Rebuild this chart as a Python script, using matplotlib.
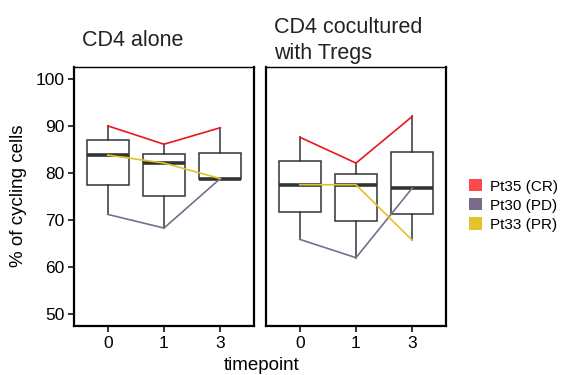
import numpy as np
import matplotlib
matplotlib.use("Agg")
import matplotlib.pyplot as plt
from matplotlib.patches import Patch

plt.rcParams['font.family'] = ['Liberation Sans', 'DejaVu Sans']

timepoints = ["0", "1", "3"]
panels = ["CD4 alone", "CD4 cocultured\nwith Tregs"]
patients = ["Pt35 (CR)", "Pt30 (PD)", "Pt33 (PR)"]
line_colors = ["#E8161E", "#7B6C8C", "#E0C22A"]
legend_colors = ["#FA4A4C", "#7A6C89", "#E2C52C"]

# % cycling cells per patient, per timepoint
alone = {
    "Pt35 (CR)": [90.0, 86.1, 89.6],
    "Pt30 (PD)": [71.2, 68.3, 78.8],
    "Pt33 (PR)": [83.8, 82.1, 78.8],
}
cocult = {
    "Pt35 (CR)": [87.6, 82.1, 92.0],
    "Pt30 (PD)": [65.9, 62.0, 76.8],
    "Pt33 (PR)": [77.5, 77.5, 65.7],
}

W, H = 561, 375
fig = plt.figure(figsize=(W / 100, H / 100), dpi=100)
axes = [fig.add_axes([74 / W, 49 / H, 180 / W, 259 / H]),
        fig.add_axes([266 / W, 49 / H, 180 / W, 259 / H])]

# title baselines (px from top) for each panel's last line
title_base = [46, 59]

pos = np.arange(1, len(timepoints) + 1)
for ax, title, data, tb in zip(axes, panels, [alone, cocult], title_base):
    groups = [[data[p][i] for p in patients] for i in range(len(timepoints))]
    ax.boxplot(groups, positions=pos, widths=0.75, whis=(0, 100),
               patch_artist=True, showfliers=False,
               boxprops=dict(facecolor="white", edgecolor="#333333", linewidth=1.1),
               whiskerprops=dict(color="#333333", linewidth=1.1),
               capprops=dict(linewidth=0),
               medianprops=dict(color="#333333", linewidth=2.6))
    for p, c in zip(patients, line_colors):
        ax.plot(pos, data[p], color=c, linewidth=1.2, zorder=5)
    ax.set_xlim(0.4, 3.6)
    ax.set_ylim(47.5, 102.5)
    ax.set_xticks(pos)
    ax.set_xticklabels(timepoints)
    ax.set_yticks([50, 60, 70, 80, 90, 100])
    ax.tick_params(axis="both", direction="out", length=4, width=1.1,
                   labelsize=12.5, colors="black", pad=3)
    ax.spines["left"].set_linewidth(1.6)
    ax.spines["bottom"].set_linewidth(1.6)
    ax.spines["top"].set_linewidth(1.0)
    ax.spines["right"].set_linewidth(1.6)
    x0 = ax.get_position().x0 + 8 / W
    lines = title.split("\n")
    for k, ln in enumerate(lines):
        yb = tb - 26 * (len(lines) - 1 - k)
        fig.text(x0, 1 - yb / H, ln, fontsize=15.5, ha="left", va="baseline",
                 color="#222222")

axes[1].tick_params(axis="y", left=False, labelleft=False)
fig.text(19 / W, 1 - 196 / H, "% of cycling cells", fontsize=13.5,
         rotation=90, ha="center", va="center")
fig.text(262 / W, 1 - 366 / H, "timepoint", fontsize=13.5, ha="center", va="center")

handles = [Patch(facecolor=c, edgecolor="none") for c in legend_colors]
fig.legend(handles, patients, loc="center left", bbox_to_anchor=(469 / W, 1 - 205.5 / H),
           frameon=False, fontsize=11, handlelength=0.85, handleheight=0.85,
           handletextpad=0.55, labelspacing=0.31, borderpad=0, borderaxespad=0)

fig.savefig("out.png", dpi=100)
